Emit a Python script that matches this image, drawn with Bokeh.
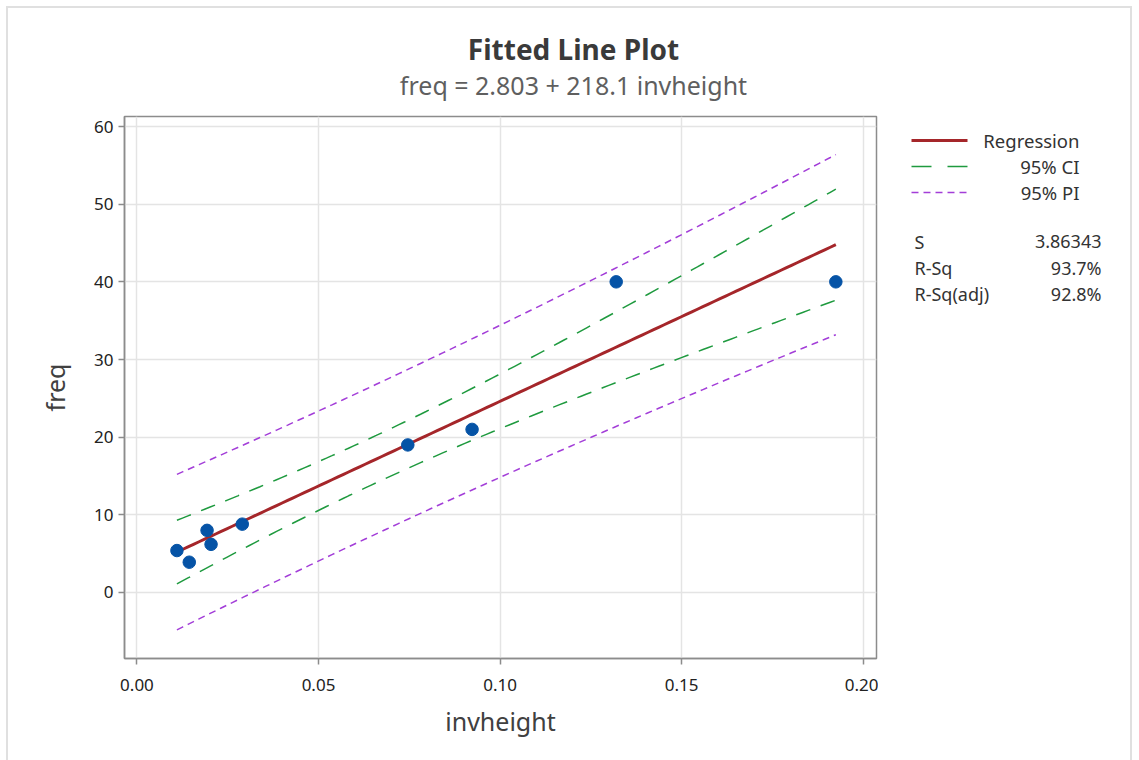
import numpy as np
from bokeh.plotting import figure
from bokeh.layouts import column, row
from bokeh.models import Label, Range1d, FixedTicker, NumeralTickFormatter
from bokeh.embed import file_html
from bokeh.resources import INLINE

# ---- data ----
invheight = [0.0110, 0.0144, 0.0193, 0.0204, 0.0290, 0.0746, 0.0923, 0.1320, 0.1925]
freq = [5.4, 3.9, 8.0, 6.2, 8.8, 19.0, 21.0, 40.0, 40.0]
intercept = 2.803
slope = 218.1
s_value = 3.86343
r_sq = "93.7%"
r_sq_adj = "92.8%"
x_ticks = [0.0, 0.05, 0.10, 0.15, 0.20]
y_ticks = [0, 10, 20, 30, 40, 50, 60]
legend_labels = ["Regression", "95% CI", "95% PI"]
stat_names = ["S", "R-Sq", "R-Sq(adj)"]
stat_values = [f"{s_value}", r_sq, r_sq_adj]
t_crit = 2.3646  # t(0.975, df = n - 2 = 7)

# ---- regression bands derived from the data ----
xa = np.array(invheight)
n = len(xa)
xbar = xa.mean()
sxx = ((xa - xbar) ** 2).sum()
xs = np.linspace(xa.min(), xa.max(), 120)
fit = intercept + slope * xs
se_fit = s_value * np.sqrt(1.0 / n + (xs - xbar) ** 2 / sxx)
ci_lo, ci_hi = fit - t_crit * se_fit, fit + t_crit * se_fit
se_pred = np.sqrt(s_value ** 2 + se_fit ** 2)
pi_lo, pi_hi = fit - t_crit * se_pred, fit + t_crit * se_pred

FONT = "Noto Sans"
PURPLE = "#a33ed8"
GREEN = "#1f9a3f"
RED = "#a5262a"
BLUE = "#0553a6"
FRAME = "#8c8c8c"
TXT = "#333333"

def blank(w, h, xr, yr):
    f = figure(width=w, height=h, output_backend="svg", toolbar_location=None,
               x_axis_type=None, y_axis_type=None, x_range=xr, y_range=yr,
               min_border_left=0, min_border_right=0, min_border_top=0, min_border_bottom=0)
    f.outline_line_color = None
    f.grid.visible = False
    return f

# ---- title strip (page pixel coordinates) ----
pt = blank(1122, 106, Range1d(8, 1130), Range1d(114, 8))
pt.add_layout(Label(x=573, y=48, text="Fitted Line Plot", text_align="center",
                    text_baseline="middle", text_font=FONT, text_font_size="28px",
                    text_font_style="bold", text_color="#3a3a3a"))
pt.add_layout(Label(x=573, y=84, text=f"freq = {intercept} + {slope} invheight",
                    text_align="center", text_baseline="middle", text_font=FONT,
                    text_font_size="25px", text_color="#5f5f5f"))

# ---- main plot ----
p = figure(width=870, height=646, output_backend="svg", toolbar_location=None,
           x_range=Range1d(-0.00344, 0.2037), y_range=Range1d(-8.5, 61.29),
           min_border_left=116, min_border_right=2, min_border_top=2, min_border_bottom=102)
p.outline_line_color = FRAME
p.outline_line_width = 1.5

for ax in (p.xaxis, p.yaxis):
    ax.axis_line_color = FRAME
    ax.axis_line_width = 1.5
    ax.major_tick_line_color = FRAME
    ax.major_tick_line_width = 1.5
    ax.major_tick_out = 6
    ax.major_tick_in = 0
    ax.minor_tick_line_color = None
    ax.major_label_text_font = FONT
    ax.major_label_text_font_size = "17px"
    ax.major_label_text_color = "#222222"
    ax.axis_label_text_font = FONT
    ax.axis_label_text_font_size = "25px"
    ax.axis_label_text_font_style = "normal"
    ax.axis_label_text_color = "#404040"

p.xaxis.ticker = FixedTicker(ticks=x_ticks)
p.xaxis.formatter = NumeralTickFormatter(format="0.00")
p.yaxis.ticker = FixedTicker(ticks=y_ticks)
p.xaxis.axis_label = "invheight"
p.yaxis.axis_label = "freq"
p.xaxis.major_label_standoff = 14
p.xaxis.axis_label_standoff = 10
p.yaxis.major_label_standoff = 5
p.yaxis.axis_label_standoff = 19

p.grid.grid_line_color = "#e4e4e4"
p.grid.grid_line_width = 1.5

p.line(xs, pi_hi, line_color=PURPLE, line_width=1.5, line_dash="7 5")
p.line(xs, pi_lo, line_color=PURPLE, line_width=1.5, line_dash="7 5")
p.line(xs, ci_hi, line_color=GREEN, line_width=1.5, line_dash="15 11")
p.line(xs, ci_lo, line_color=GREEN, line_width=1.5, line_dash="15 11")
p.line(xs, fit, line_color=RED, line_width=3)
p.scatter(invheight, freq, size=12.5, color=BLUE)

# ---- legend / statistics panel (page pixel coordinates; its frame lines up with the plot frame) ----
ps = blank(252, 646, Range1d(878, 1130), Range1d(658, 116))
key_styles = [dict(line_color=RED, line_width=3),
              dict(line_color=GREEN, line_width=1.5, line_dash="20 16"),
              dict(line_color=PURPLE, line_width=1.5, line_dash="7 5")]
KEY_X0, KEY_X1, KEY_LABEL_X, ROW0, ROW_STEP = 911, 967, 1079, 140, 26
for i, (lab, st) in enumerate(zip(legend_labels, key_styles)):
    yy = ROW0 + ROW_STEP * i
    ps.line([KEY_X0, KEY_X1], [yy, yy], **st)
    ps.add_layout(Label(x=KEY_LABEL_X, y=yy, text=lab, text_align="right", text_baseline="middle",
                        text_font=FONT, text_font_size="18.5px", text_color=TXT))

STAT_X0, STAT_X1, STAT_ROW0 = 914, 1101, 241
for i, (name, val) in enumerate(zip(stat_names, stat_values)):
    yy = STAT_ROW0 + ROW_STEP * i
    ps.add_layout(Label(x=STAT_X0, y=yy, text=name, text_align="left", text_baseline="middle",
                        text_font=FONT, text_font_size="18px", text_color=TXT))
    ps.add_layout(Label(x=STAT_X1, y=yy, text=val, text_align="right", text_baseline="middle",
                        text_font=FONT, text_font_size="18px", text_color=TXT))

layout = column(pt, row(p, ps, spacing=0), spacing=0)
layout.styles = {"margin-left": "6px", "margin-top": "6px",
                 "border-left": "2px solid #e0e0e0", "border-top": "2px solid #e0e0e0",
                 "border-right": "2px solid #e0e0e0"}

open("out.html", "w").write(file_html(layout, INLINE))
